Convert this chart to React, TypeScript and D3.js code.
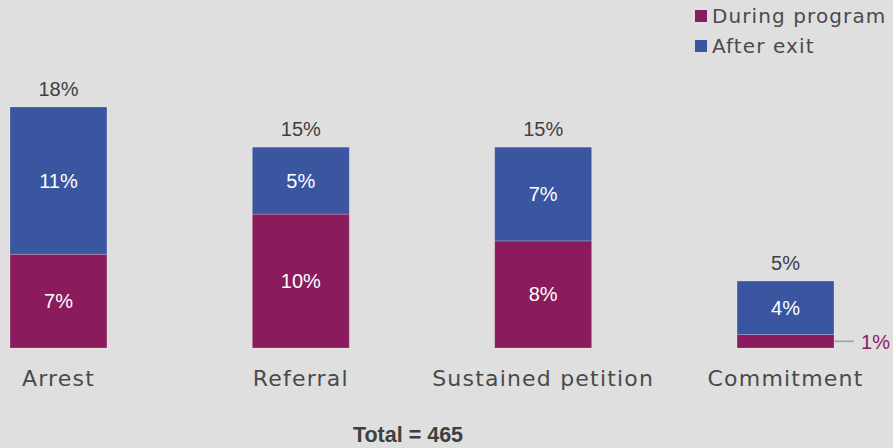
import React from 'react';
import * as d3 from 'd3';

const categories = ['Arrest', 'Referral', 'Sustained petition', 'Commitment'];
const duringProgram = [7, 10, 8, 1];
const afterExit = [11, 5, 7, 4];
const totals = [18, 15, 15, 5];
const seriesNames = ['During program', 'After exit'];
const totalNote = 'Total = 465';

const W = 893, H = 448;
const PURPLE = '#8a1b5d';
const BLUE = '#3a56a1';
const labelFont = "'DejaVu Sans', 'Open Sans', sans-serif";
const numFont = "'Liberation Sans', Arial, sans-serif";

export default function App() {
    const x = d3.scaleBand<string>()
        .domain(categories)
        .range([10, 834])
        .paddingInner(0.6)
        .paddingOuter(0);

    const y = d3.scaleLinear()
        .domain([0, 18])
        .range([348, 107]);

    const rows = categories.map((c, i) => ({ c, during: duringProgram[i], after: afterExit[i], total: totals[i] }));
    const stacked = d3.stack<any>().keys(['during', 'after'])(rows);
    const colors = [PURPLE, BLUE];

    return (
        <svg width={W} height={H} style={{ position: 'absolute', left: 0, top: 0, background: '#dfdfe0' }}>
            <rect width={W} height={H} fill="#dfdfe0" />
            {stacked.map((layer, li) => (
                <g key={li}>
                    {layer.map((d, i) => {
                        const x0 = x(categories[i])!;
                        const bw = x.bandwidth();
                        const top = y(d[1]);
                        const h = y(d[0]) - y(d[1]);
                        const v = d[1] - d[0];
                        return (
                            <g key={i}>
                                <rect x={x0} y={top} width={bw} height={h} fill={colors[li]}
                                    stroke="#ffffff" strokeOpacity={0.25} strokeWidth={0.8} />
                                {h > 30 && (
                                    <text x={x0 + bw / 2} y={top + h / 2 + 7} textAnchor="middle"
                                        fontFamily={numFont} fontSize={20} fill="#ffffff">{v}%</text>
                                )}
                            </g>
                        );
                    })}
                </g>
            ))}
            {rows.map((r, i) => {
                const x0 = x(r.c)!;
                const bw = x.bandwidth();
                return (
                    <g key={r.c}>
                        <text x={x0 + bw / 2} y={y(r.total) - 11} textAnchor="middle"
                            fontFamily={numFont} fontSize={20} fill="#404040">{r.total}%</text>
                        <text x={x0 + bw / 2} y={386} textAnchor="middle" letterSpacing={1.2}
                            fontFamily={labelFont} fontSize={22} fill="#4a4a4a">{r.c}</text>
                        {y(0) - y(r.during) <= 30 && (
                            <g>
                                <line x1={x0 + bw} x2={x0 + bw + 20} y1={y(r.during / 2)} y2={y(r.during / 2)}
                                    stroke="#a0a0a0" strokeWidth={1.5} />
                                <text x={x0 + bw + 27} y={y(r.during / 2) + 8} fontFamily={numFont}
                                    fontSize={20} fill={PURPLE}>{r.during}%</text>
                            </g>
                        )}
                    </g>
                );
            })}
            {seriesNames.map((s, i) => (
                <g key={s} transform={`translate(695, ${10 + i * 30})`}>
                    <rect width={12} height={12} fill={colors[i]} />
                    <text x={17} y={13} letterSpacing={1.1} fontFamily={labelFont} fontSize={20}
                        fill="#4a4a4a">{s}</text>
                </g>
            ))}
            <text x={408} y={442} textAnchor="middle" fontFamily={numFont} fontWeight="bold"
                fontSize={21.5} fill="#404040">{totalNote}</text>
        </svg>
    );
}
